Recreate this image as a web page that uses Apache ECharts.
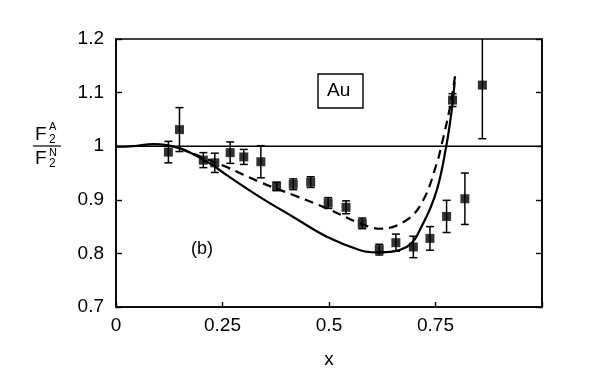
<!DOCTYPE html>
<html>
<head>
<meta charset="utf-8">
<script src="https://cdn.jsdelivr.net/npm/echarts@6/dist/echarts.min.js"></script>
<style>
  html, body { margin: 0; padding: 0; background: #fff; }
  #chart { width: 594px; height: 382px; }
</style>
</head>
<body>
<div id="chart"></div>
<script>
// measured points (Au) with errors
var dataX = [0.123, 0.149, 0.205, 0.232, 0.268, 0.300, 0.340, 0.377, 0.416, 0.457, 0.498, 0.540, 0.578, 0.618, 0.657, 0.698, 0.737, 0.776, 0.790, 0.819, 0.860]
var dataY = [0.989, 1.031, 0.974, 0.969, 0.988, 0.980, 0.971, 0.925, 0.929, 0.933, 0.894, 0.886, 0.856, 0.807, 0.820, 0.812, 0.828, 0.869, 1.086, 0.902, 1.114]
var dataErr = [0.020, 0.041, 0.014, 0.018, 0.020, 0.014, 0.030, 0.008, 0.010, 0.010, 0.010, 0.012, 0.010, 0.010, 0.016, 0.020, 0.022, 0.030, 0.012, 0.048, 0.100]

// solid curve
var solidX = [0, 0.04, 0.088, 0.15, 0.22, 0.26, 0.338, 0.416, 0.495, 0.573, 0.612, 0.682, 0.721, 0.753, 0.775, 0.788, 0.795]
var solidY = [0.999, 1.0, 1.004, 0.996, 0.968, 0.946, 0.905, 0.868, 0.831, 0.806, 0.802, 0.812, 0.856, 0.918, 0.999, 1.067, 1.12]

// dashed curve
var dashX = [0.15, 0.22, 0.26, 0.338, 0.416, 0.495, 0.573, 0.62, 0.682, 0.721, 0.753, 0.765, 0.784, 0.798]
var dashY = [0.996, 0.974, 0.961, 0.933, 0.909, 0.884, 0.856, 0.846, 0.862, 0.899, 0.968, 1.005, 1.073, 1.142]

var xTicks = ['0', '0.25', '0.5', '0.75']
var yTicks = ['0.7', '0.8', '0.9', '1', '1.1', '1.2']

function zip(a, b) {
    var out = []
    for (var i = 0; i < a.length; i++) out.push([a[i], b[i]])
    return out
}

var points = zip(dataX, dataY)
var bars = []
for (var i = 0; i < dataX.length; i++) {
    bars.push([dataX[i], dataY[i] - dataErr[i], dataY[i] + dataErr[i]])
}

var font = 'Liberation Sans, Arial, sans-serif'
var chart = echarts.init(document.getElementById('chart'))

var option = {
    animation: false,
    backgroundColor: '#fff',
    grid: {
        left: 116, right: 52, top: 39, bottom: 75,
        show: true, borderColor: '#000', borderWidth: 1.6
    },
    xAxis: [{
        type: 'value', min: 0, max: 1, interval: 0.25,
        axisLine: { lineStyle: { color: '#000', width: 1.6 } },
        axisTick: { inside: true, length: 5, lineStyle: { color: '#000', width: 1.4 } },
        splitLine: { show: false },
        axisLabel: {
            color: '#000', fontSize: 19, fontFamily: font, margin: 9,
            formatter: function (v) {
                var k = Math.round(v / 0.25)
                return xTicks[k] || ''
            }
        },
        name: 'x', nameLocation: 'middle', nameGap: 43,
        nameTextStyle: { color: '#000', fontSize: 19, fontFamily: font }
    }],
    yAxis: [{
        type: 'value', min: 0.7, max: 1.2, interval: 0.1,
        axisLine: { show: true, lineStyle: { color: '#000', width: 1.6 } },
        axisTick: { show: true, inside: true, length: 6, lineStyle: { color: '#000', width: 1.4 } },
        splitLine: { show: false },
        axisLabel: {
            color: '#000', fontSize: 19, fontFamily: font, margin: 12,
            formatter: function (v) {
                var k = Math.round((v - 0.7) / 0.1)
                return yTicks[k]
            }
        }
    }, {
        type: 'value', min: 0.7, max: 1.2, interval: 0.1, position: 'right',
        axisLine: { show: true, lineStyle: { color: '#000', width: 1.6 } },
        axisTick: { show: true, inside: true, length: 6, lineStyle: { color: '#000', width: 1.4 } },
        splitLine: { show: false },
        axisLabel: { show: false }
    }],
    graphic: [
        { type: 'text', left: 35, top: 125, style: { text: 'F', fill: '#000', font: '19px ' + font } },
        { type: 'text', left: 49, top: 121, style: { text: 'A', fill: '#000', font: '11px ' + font } },
        { type: 'text', left: 49, top: 134, style: { text: '2', fill: '#000', font: '12px ' + font } },
        { type: 'line', shape: { x1: 33, y1: 146, x2: 61, y2: 146 }, style: { stroke: '#000', lineWidth: 1.2 } },
        { type: 'text', left: 35, top: 149, style: { text: 'F', fill: '#000', font: '19px ' + font } },
        { type: 'text', left: 49, top: 147, style: { text: 'N', fill: '#000', font: '11px ' + font } },
        { type: 'text', left: 49, top: 158, style: { text: '2', fill: '#000', font: '12px ' + font } },
        { type: 'rect', shape: { x: 318, y: 74, width: 45, height: 34 }, style: { fill: '#fff', stroke: '#000', lineWidth: 1.4 } },
        { type: 'text', left: 327, top: 81, style: { text: 'Au', fill: '#000', font: '19px ' + font } },
        { type: 'text', left: 191, top: 240, style: { text: '(b)', fill: '#000', font: '18px ' + font } }
    ],
    series: [{
        type: 'line', data: [[0, 1], [1, 1]], symbol: 'none',
        lineStyle: { color: '#000', width: 1.4 }, z: 1
    }, {
        type: 'line', data: zip(solidX, solidY), symbol: 'none', smooth: 0.4,
        lineStyle: { color: '#000', width: 2.2 }, z: 2
    }, {
        type: 'line', data: zip(dashX, dashY), symbol: 'none', smooth: 0.4,
        lineStyle: { color: '#000', width: 2.2, type: [9, 6] }, z: 2
    }, {
        type: 'custom', data: bars, z: 3, clip: true,
        renderItem: function (params, api) {
            var lo = api.coord([api.value(0), api.value(1)])
            var hi = api.coord([api.value(0), api.value(2)])
            var w = 4
            var st = { stroke: '#000', lineWidth: 1.5 }
            return {
                type: 'group',
                children: [
                    { type: 'line', shape: { x1: lo[0], y1: lo[1], x2: hi[0], y2: hi[1] }, style: st },
                    { type: 'line', shape: { x1: lo[0] - w, y1: lo[1], x2: lo[0] + w, y2: lo[1] }, style: st },
                    { type: 'line', shape: { x1: hi[0] - w, y1: hi[1], x2: hi[0] + w, y2: hi[1] }, style: st }
                ]
            }
        }
    }, {
        type: 'scatter', data: points, symbol: 'rect', symbolSize: 9,
        itemStyle: { color: '#000' }, z: 4
    }]
}
chart.setOption(option)
</script>
</body>
</html>
